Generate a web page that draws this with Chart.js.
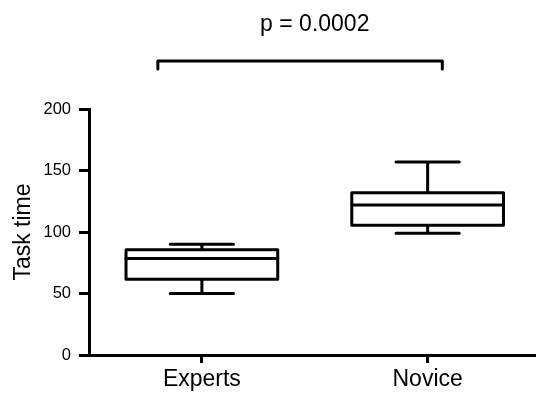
<!DOCTYPE html>
<html>
<head>
<meta charset="utf-8">
<script src="https://cdn.jsdelivr.net/npm/chart.js@4"></script>
<style>
  html, body { margin: 0; padding: 0; background: #fff; }
  #wrap { width: 536px; height: 396px; }
</style>
</head>
<body>
<div id="wrap"><canvas id="chart"></canvas></div>
<script>
const groups = ['Experts', 'Novice'];
const whiskerLow = [50, 99];
const quartile1 = [61.5, 105.5];
const medians = [78.5, 122];
const quartile3 = [85.5, 132];
const whiskerHigh = [90, 157];
const yTicks = [0, 50, 100, 150, 200];
const pLabel = 'p = 0.0002';

const FONT = '"Liberation Sans", Arial, Helvetica, sans-serif';
Chart.defaults.font.family = FONT;
Chart.defaults.color = '#000';

// draws the boxes, whiskers and the significance bracket from the scales
const boxPlot = {
  id: 'boxPlot',
  afterDatasetsDraw(chart) {
    const { ctx, chartArea, scales: { x, y } } = chart;
    ctx.save();
    ctx.strokeStyle = '#000';
    ctx.lineWidth = 3;
    ctx.lineJoin = 'round';
    ctx.lineCap = 'round';

    groups.forEach((g, i) => {
      const cx = x.getPixelForValue(i);
      const boxHalf = x.getPixelForValue(i + 0.336) - cx;
      const capHalf = x.getPixelForValue(i + 0.14) - cx;
      const yLo = y.getPixelForValue(whiskerLow[i]);
      const yQ1 = y.getPixelForValue(quartile1[i]);
      const yMed = y.getPixelForValue(medians[i]);
      const yQ3 = y.getPixelForValue(quartile3[i]);
      const yHi = y.getPixelForValue(whiskerHigh[i]);

      ctx.beginPath();
      ctx.moveTo(cx, yLo); ctx.lineTo(cx, yQ1);
      ctx.moveTo(cx, yQ3); ctx.lineTo(cx, yHi);
      ctx.moveTo(cx - capHalf, yLo); ctx.lineTo(cx + capHalf, yLo);
      ctx.moveTo(cx - capHalf, yHi); ctx.lineTo(cx + capHalf, yHi);
      ctx.stroke();

      ctx.fillStyle = '#fff';
      ctx.fillRect(cx - boxHalf, yQ3, boxHalf * 2, yQ1 - yQ3);
      ctx.strokeRect(cx - boxHalf, yQ3, boxHalf * 2, yQ1 - yQ3);

      ctx.beginPath();
      ctx.moveTo(cx - boxHalf, yMed); ctx.lineTo(cx + boxHalf, yMed);
      ctx.stroke();
    });

    // bracket + p value
    const xl = x.getPixelForValue(-0.195);
    const xr = x.getPixelForValue(1.065);
    const yb = chartArea.top - 48;
    ctx.beginPath();
    ctx.moveTo(xl, yb + 8); ctx.lineTo(xl, yb); ctx.lineTo(xr, yb); ctx.lineTo(xr, yb + 8);
    ctx.stroke();

    ctx.fillStyle = '#000';
    ctx.font = '23px ' + FONT;
    ctx.textAlign = 'center';
    ctx.textBaseline = 'alphabetic';
    ctx.fillText(pLabel, x.getPixelForValue(0.5), yb - 30);
    ctx.restore();
  }
};

new Chart(document.getElementById('chart'), {
  type: 'scatter',
  data: {
    datasets: [{
      data: groups.map((g, i) => ({ x: i, y: medians[i] })),
      pointRadius: 0,
      showLine: false
    }]
  },
  options: {
    responsive: true,
    maintainAspectRatio: false,
    animation: false,
    layout: { padding: { top: 109, right: 0, bottom: 0, left: 0 } },
    plugins: { legend: { display: false }, tooltip: { enabled: false } },
    scales: {
      x: {
        type: 'linear',
        min: -0.5,
        max: 1.48,
        afterBuildTicks: s => { s.ticks = groups.map((g, i) => ({ value: i })); },
        afterFit: s => { s.height = 41; },
        ticks: { callback: v => groups[v], font: { size: 23 }, color: '#000', padding: 3 },
        grid: { drawOnChartArea: false, tickLength: 8, tickWidth: 3, tickColor: '#000' },
        border: { color: '#000', width: 3 }
      },
      y: {
        min: 0,
        max: 200,
        afterBuildTicks: s => { s.ticks = yTicks.map(v => ({ value: v })); },
        afterFit: s => { s.width = 89; },
        ticks: { font: { size: 16.5 }, color: '#000', padding: 8 },
        grid: { drawOnChartArea: false, tickLength: 10, tickWidth: 3, tickColor: '#000' },
        border: { color: '#000', width: 3 },
        title: { display: true, text: 'Task time', font: { size: 23 }, color: '#000', padding: { top: 10, bottom: 0 } }
      }
    }
  },
  plugins: [boxPlot]
});
</script>
</body>
</html>
